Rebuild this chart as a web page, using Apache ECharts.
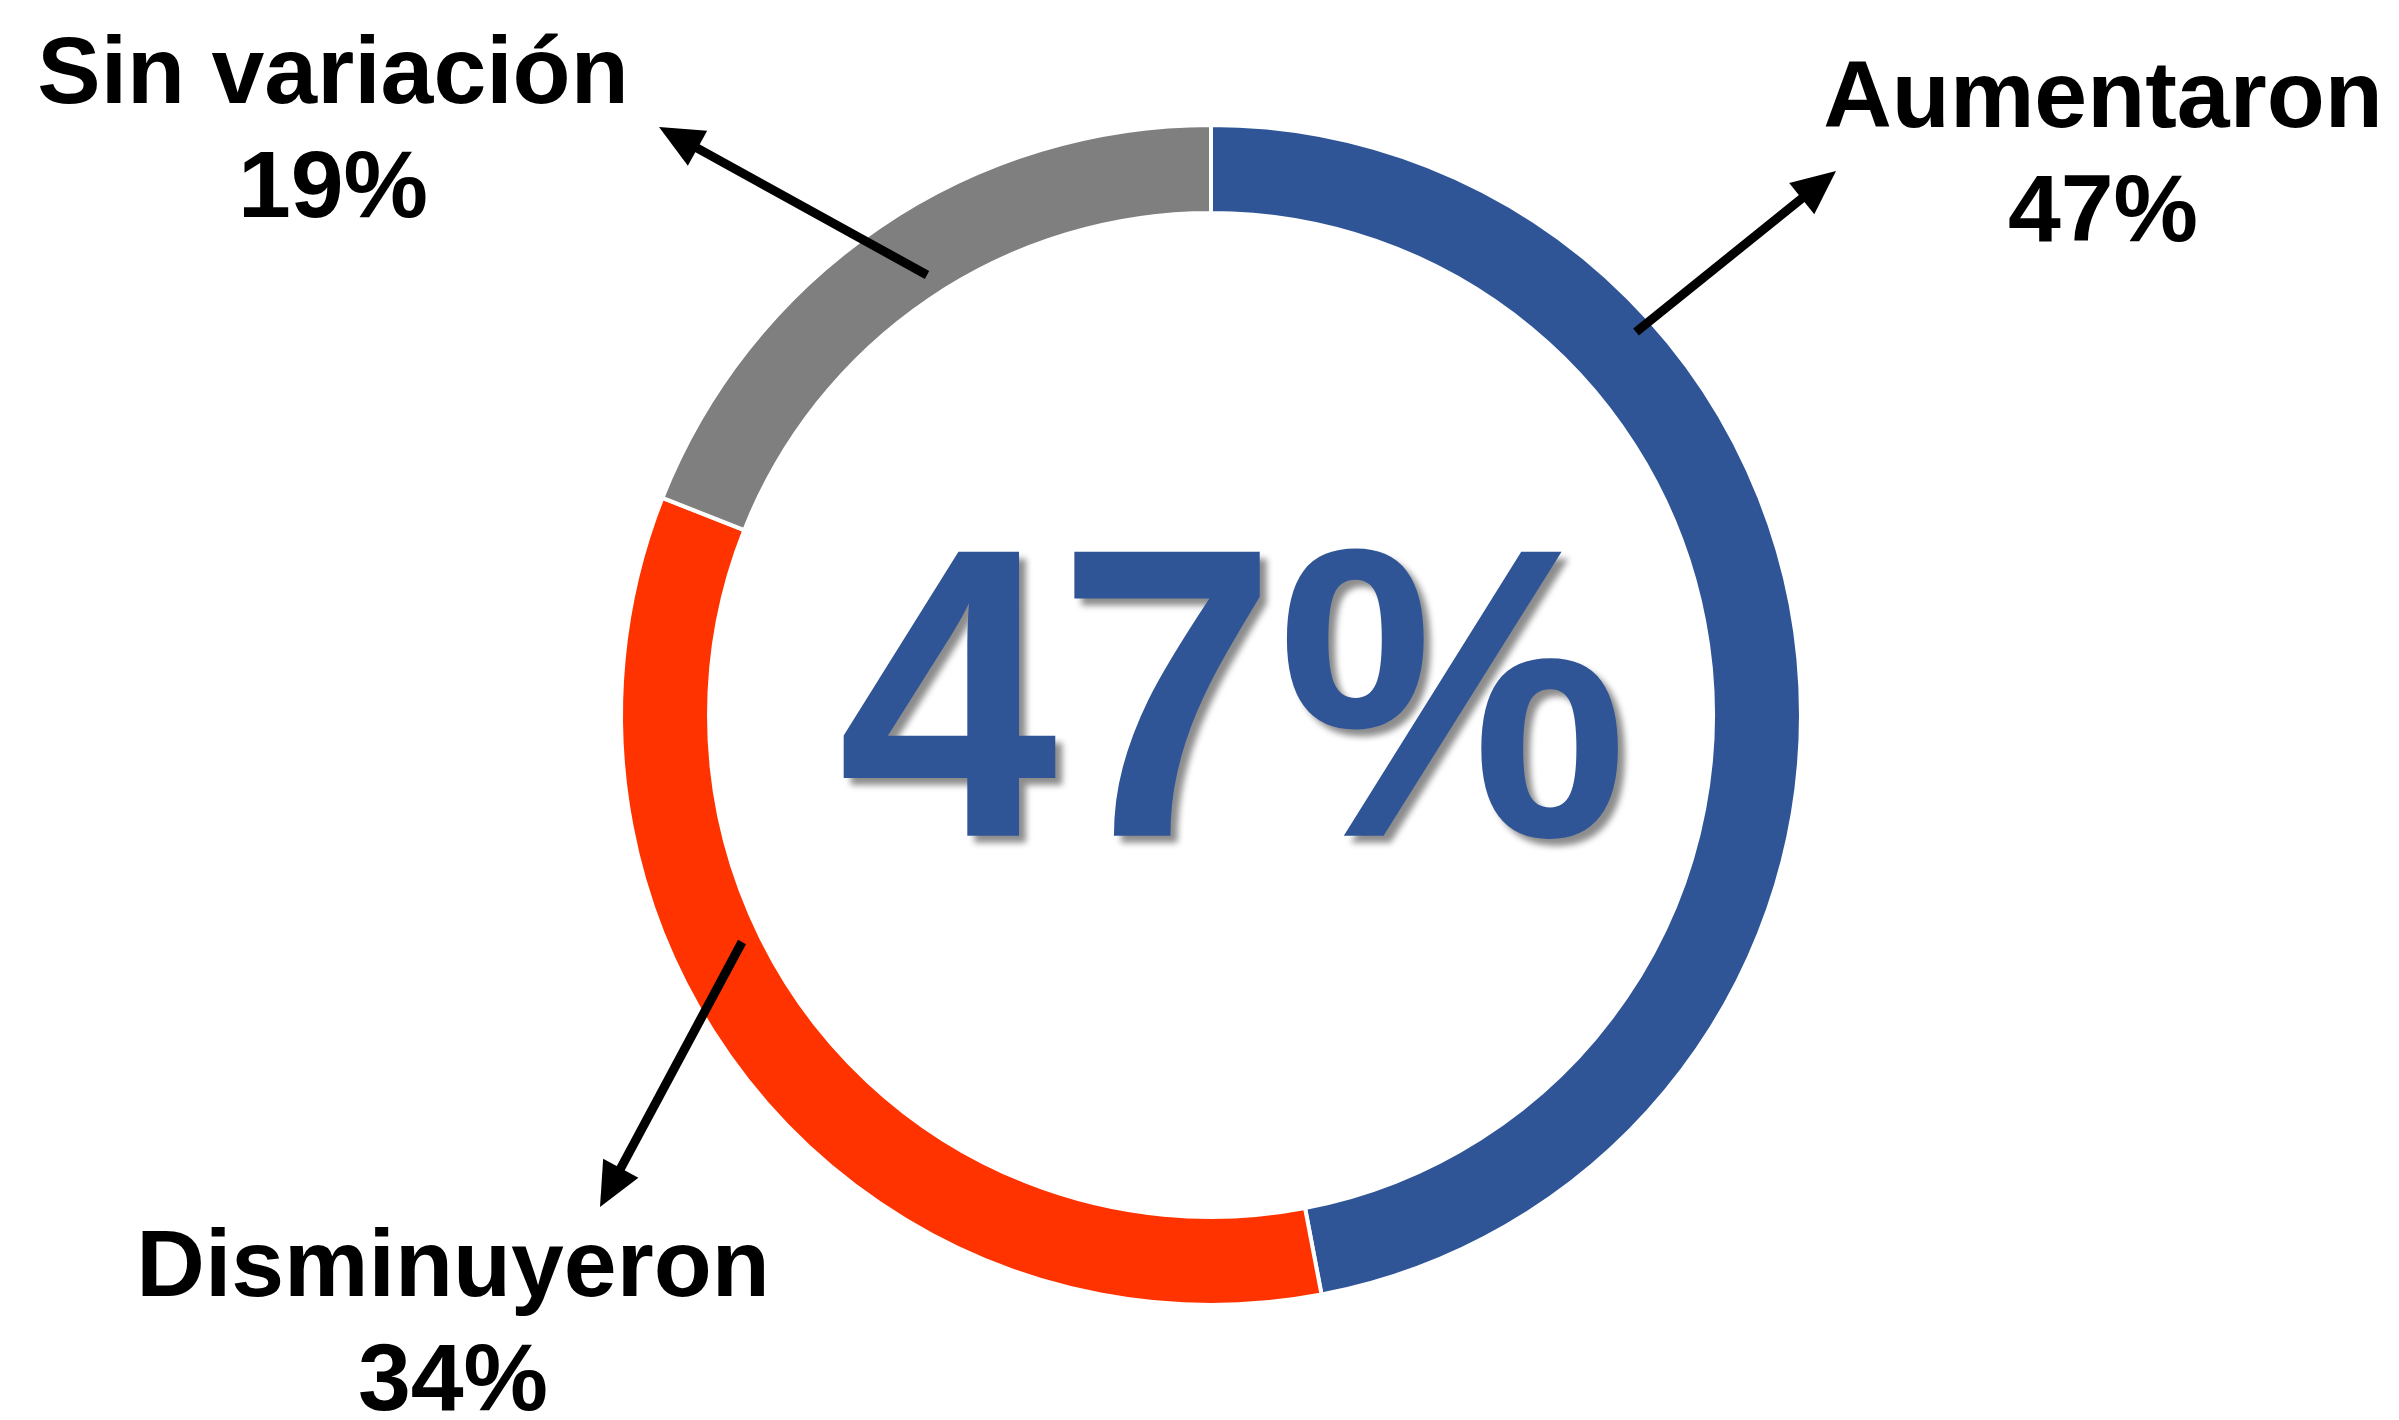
<!DOCTYPE html>
<html>
<head>
<meta charset="utf-8">
<script src="https://cdn.jsdelivr.net/npm/echarts@6/dist/echarts.min.js"></script>
<style>
html,body{margin:0;padding:0;background:#fff;}
#chart{width:2399px;height:1420px;}
</style>
</head>
<body>
<div id="chart"></div>
<script>
// ---- data ----
const categories = ['Aumentaron', 'Disminuyeron', 'Sin variación'];
const values = [47, 34, 19];
const highlightIndex = 0;

// ---- styles / layout ----
const sliceColors = ['#2F5597', '#FF3300', '#7F7F7F'];
const FONT = '"Liberation Sans", Arial, Helvetica, sans-serif';
const CX = 1211, CY = 715;
const labelPos = [ {x: 2103, y: 158}, {x: 453, y: 1327}, {x: 333, y: 134} ];
const arrows = [
  {from: [1636, 332], to: [1836, 171]},
  {from: [742, 942],  to: [600, 1207]},
  {from: [927, 275],  to: [659, 127]}
];

const chart = echarts.init(document.getElementById('chart'));
const total = values.reduce((a, b) => a + b, 0);

function arrowGraphics(a) {
  const [x1, y1] = a.from, [x2, y2] = a.to;
  const dx = x2 - x1, dy = y2 - y1, L = Math.hypot(dx, dy);
  const ux = dx / L, uy = dy / L, px = -uy, py = ux;
  const hl = 44, hw = 20;
  const bx = x2 - ux * hl, by = y2 - uy * hl;
  return [
    {type: 'line', shape: {x1: x1, y1: y1, x2: bx + ux * 4, y2: by + uy * 4},
     style: {stroke: '#000', lineWidth: 9}, z: 10},
    {type: 'polygon', shape: {points: [[x2, y2], [bx + px * hw, by + py * hw], [bx - px * hw, by - py * hw]]},
     style: {fill: '#000'}, z: 10}
  ];
}

const graphics = [];
arrows.forEach(a => graphics.push(...arrowGraphics(a)));
graphics.push({
  type: 'text', x: 1233, y: 722, z: 20,
  scaleY: 1.045,
  style: {
    text: Math.round(values[highlightIndex] / total * 100) + '%',
    fill: '#2F5597',
    font: 'bold 395px ' + FONT,
    textAlign: 'center', textVerticalAlign: 'middle',
    textShadowColor: 'rgba(0,0,0,0.45)', textShadowBlur: 6,
    textShadowOffsetX: 7, textShadowOffsetY: 7
  }
});

chart.setOption({
  animation: false,
  backgroundColor: '#fff',
  graphic: graphics,
  series: [{
    type: 'pie',
    center: [CX, CY],
    radius: [502, 590],
    startAngle: 90,
    clockwise: true,
    avoidLabelOverlap: false,
    itemStyle: {borderColor: '#fff', borderWidth: 4},
    label: {
      show: true,
      position: 'outside',
      formatter: p => '{n|' + p.name + '}\n{n|' + Math.round(p.percent) + '%}',
      rich: {
        n: {fontFamily: FONT, fontWeight: 'bold', fontSize: 95, lineHeight: 114, color: '#000', align: 'center'}
      }
    },
    labelLine: {show: false},
    labelLayout: function (params) {
      const p = labelPos[params.dataIndex];
      return {x: p.x, y: p.y, align: 'center', verticalAlign: 'middle'};
    },
    emphasis: {disabled: true},
    data: categories.map((c, i) => ({name: c, value: values[i], itemStyle: {color: sliceColors[i]}}))
  }]
});
</script>
</body>
</html>
